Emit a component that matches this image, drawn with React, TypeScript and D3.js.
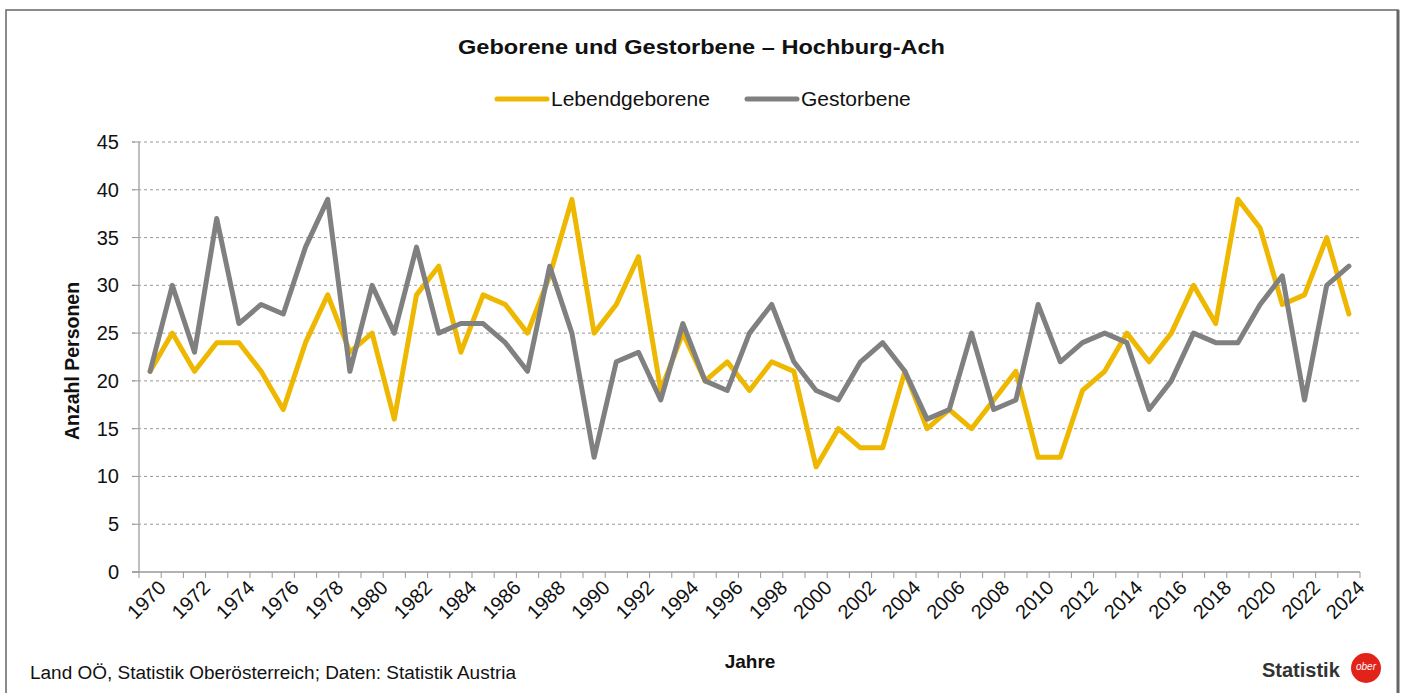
import React from "react";
import * as d3 from "d3";

const years = d3.range(1970, 2025);

const lebendgeborene = [
  21, 25, 21, 24, 24, 21, 17, 24, 29, 23,
  25, 16, 29, 32, 23, 29, 28, 25, 31, 39,
  25, 28, 33, 19, 25, 20, 22, 19, 22, 21,
  11, 15, 13, 13, 21, 15, 17, 15, 18, 21,
  12, 12, 19, 21, 25, 22, 25, 30, 26, 39,
  36, 28, 29, 35, 27,
];

const gestorbene = [
  21, 30, 23, 37, 26, 28, 27, 34, 39, 21,
  30, 25, 34, 25, 26, 26, 24, 21, 32, 25,
  12, 22, 23, 18, 26, 20, 19, 25, 28, 22,
  19, 18, 22, 24, 21, 16, 17, 25, 17, 18,
  28, 22, 24, 25, 24, 17, 20, 25, 24, 24,
  28, 31, 18, 30, 32,
];

const yTicks = [0, 5, 10, 15, 20, 25, 30, 35, 40, 45];

const series = [
  { name: "Lebendgeborene", values: lebendgeborene, color: "#EEB700" },
  { name: "Gestorbene", values: gestorbene, color: "#808080" },
];

const W = 1402;
const H = 693;
const font = "'Liberation Sans', Arial, sans-serif";

const App = () => {
  const x = d3.scaleBand<number>().domain(years).range([139, 1360]).paddingInner(0);
  const y = d3.scaleLinear().domain([0, 45]).range([572, 142]);
  const cx = (yr: number) => (x(yr) as number) + x.bandwidth() / 2;

  const line = (vals: number[]) =>
    d3.line<number>()
      .x((_, i) => cx(years[i]))
      .y(v => y(v))(vals) as string;

  const boundaries = [...years.map(yr => x(yr) as number), 1360];

  return (
    <svg width={W} height={H} style={{ position: "absolute", left: 0, top: 0, fontFamily: font }}>
      <rect x={0} y={0} width={W} height={H} fill="#fff" />
      {/* frame */}
      <rect x={6} y={10} width={1392} height={700} fill="none" stroke="#666" strokeWidth={1.5} />
      <line x1={1398} x2={1398} y1={10} y2={H} stroke="#666" strokeWidth={3} />

      <text x={458} y={54} textLength={487} lengthAdjust="spacingAndGlyphs" fontSize={21} fontWeight="bold" fill="#111">
        Geborene und Gestorbene – Hochburg-Ach
      </text>

      {/* legend */}
      {series.map((s, i) => {
        const lx = i === 0 ? 497 : 747;
        return (
          <g key={s.name}>
            <line x1={lx} x2={lx + 50} y1={99} y2={99} stroke={s.color} strokeWidth={5} strokeLinecap="round" />
            <text x={lx + 54} y={106} fontSize={21} fill="#111">{s.name}</text>
          </g>
        );
      })}

      {/* gridlines */}
      {yTicks.filter(t => t > 0).map(t => (
        <line key={t} x1={132} x2={1360} y1={y(t)} y2={y(t)} stroke="#999" strokeWidth={1} strokeDasharray="3,3" />
      ))}
      {yTicks.map(t => (
        <g key={"yl" + t}>
          <line x1={132} x2={139} y1={y(t)} y2={y(t)} stroke="#999" />
          <text x={119} y={y(t)} dy="0.35em" textAnchor="end" fontSize={20} fill="#111">{t}</text>
        </g>
      ))}
      <line x1={139} x2={139} y1={142} y2={572} stroke="#aaa" strokeWidth={1.5} />
      <line x1={132} x2={1360} y1={572} y2={572} stroke="#999" strokeWidth={1.5} />
      {boundaries.map((b, i) => (
        <line key={"xt" + i} x1={b} x2={b} y1={572} y2={578} stroke="#999" />
      ))}
      {years.filter(yr => (yr - 1970) % 2 === 0).map(yr => (
        <text
          key={"xl" + yr}
          transform={`translate(${cx(yr) + 7},${579}) rotate(-45)`}
          textAnchor="end"
          dy="0.7em"
          fontSize={20}
          fill="#111"
        >
          {yr}
        </text>
      ))}

      {/* series */}
      {series.map(s => (
        <path key={s.name} d={line(s.values)} fill="none" stroke={s.color} strokeWidth={5} strokeLinejoin="round" strokeLinecap="round" />
      ))}

      {/* axis titles */}
      <text transform="translate(79,361) rotate(-90)" textAnchor="middle" fontSize={19.5} fontWeight="bold" fill="#111">
        Anzahl Personen
      </text>
      <text x={750} y={668} textAnchor="middle" fontSize={19} fontWeight="bold" fill="#111">Jahre</text>

      <text x={30} y={679} fontSize={18} textLength={486} lengthAdjust="spacingAndGlyphs" fill="#111">
        Land OÖ, Statistik Oberösterreich; Daten: Statistik Austria
      </text>

      {/* logo */}
      <text x={1262} y={677} fontSize={20} fontWeight="bold" fill="#333">Statistik</text>
      <circle cx={1366} cy={668} r={15} fill="#E2231A" />
      <text x={1366} y={670} textAnchor="middle" fontSize={10} fontStyle="italic" fill="#fff">ober</text>
    </svg>
  );
};

export default App;
